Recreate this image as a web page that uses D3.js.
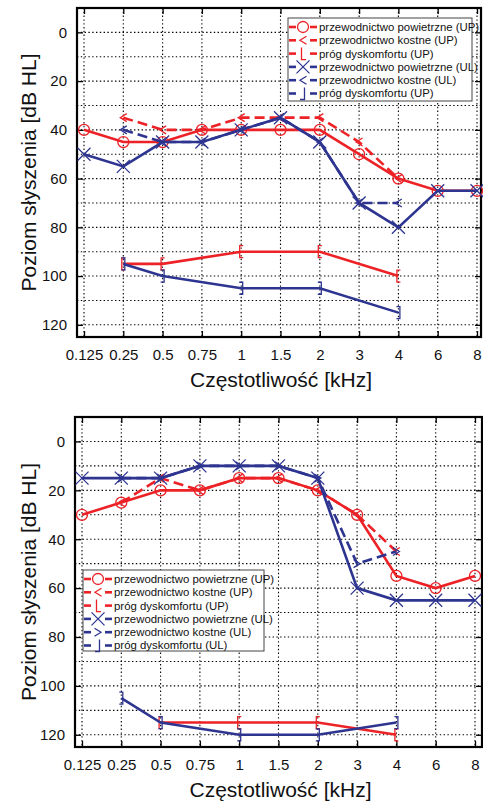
<!DOCTYPE html>
<html>
<head>
<meta charset="utf-8">
<script src="https://cdn.jsdelivr.net/npm/d3@7"></script>
<style>
  body { margin: 0; background: #fff; }
  svg { display: block; }
</style>
</head>
<body>
<div id="chart"></div>
<script>
// frequencies (categorical axis) and dB ticks
const freqs = ["0.125", "0.25", "0.5", "0.75", "1", "1.5", "2", "3", "4", "6", "8"];
const dbTicks = [0, 20, 40, 60, 80, 100, 120];
const dbGrid = [0, 10, 20, 30, 40, 50, 60, 70, 80, 90, 100, 110, 120];

// top audiogram
const airUP1  = [40, 45, 45, 40, 40, 40, 40, 50, 60, 65, 65];
const boneUP1 = [null, 35, 40, 40, 35, 35, 35, 45, 60, null, null];
const uclUP1  = [null, 95, 95, null, 90, null, 90, null, 100, null, null];
const airUL1  = [50, 55, 45, 45, 40, 35, 45, 70, 80, 65, 65];
const boneUL1 = [null, 40, 45, 45, 40, 35, 45, 70, 70, null, null];
const uclUL1  = [null, 95, 100, null, 105, null, 105, null, 115, null, null];
const legend1 = ["przewodnictwo powietrzne (UP)", "przewodnictwo kostne (UP)", "próg dyskomfortu (UP)",
                 "przewodnictwo powietrzne (UL)", "przewodnictwo kostne (UL)", "próg dyskomfortu (UP)"];

// bottom audiogram
const airUP2  = [30, 25, 20, 20, 15, 15, 20, 30, 55, 60, 55];
const boneUP2 = [null, 25, 15, 20, 15, 15, 20, 30, 45, null, null];
const uclUP2  = [null, null, 115, null, 115, null, 115, null, 120, null, null];
const airUL2  = [15, 15, 15, 10, 10, 10, 15, 60, 65, 65, 65];
const boneUL2 = [null, 15, 15, 10, 10, 10, 15, 50, 45, null, null];
const uclUL2  = [null, 105, 115, null, 120, null, 120, null, 115, null, null];
const legend2 = ["przewodnictwo powietrzne (UP)", "przewodnictwo kostne (UP)", "próg dyskomfortu (UP)",
                 "przewodnictwo powietrzne (UL)", "przewodnictwo kostne (UL)", "próg dyskomfortu (UL)"];

const RED = "#ec2227";
const BLUE = "#2e3590";
const FONT = "'Liberation Sans', Arial, sans-serif";

const svg = d3.select("#chart").append("svg")
    .attr("width", 483)
    .attr("height", 804);

// legend order: air UP, bone UP, ucl UP, air UL, bone UL, ucl UL
function legendOrder(s) {
    const base = s.color === RED ? 0 : 3;
    if (s.mark === "o" || s.mark === "x") return base;
    if (s.dash) return base + 1;
    return base + 2;
}

// draws one marker symbol
function marker(g, type, x, y, color) {
    if (type === "o") {
        g.append("circle").attr("cx", x).attr("cy", y).attr("r", 5.5)
            .attr("fill", "none").attr("stroke", color).attr("stroke-width", 1.3);
        return;
    }
    let d;
    if (type === "x") d = `M${x-6.5},${y-6.5}L${x+6.5},${y+6.5}M${x-6.5},${y+6.5}L${x+6.5},${y-6.5}`;
    if (type === "<") d = `M${x+3.5},${y-4}L${x-3},${y}L${x+3.5},${y+4}`;
    if (type === ">") d = `M${x-3.5},${y-4}L${x+3},${y}L${x-3.5},${y+4}`;
    if (type === "[") d = `M${x+2},${y-6}L${x-1.5},${y-6}L${x-1.5},${y+6}L${x+2},${y+6}`;
    if (type === "]") d = `M${x-2},${y-6}L${x+1.5},${y-6}L${x+1.5},${y+6}L${x-2},${y+6}`;
    if (type === "L") d = `M${x-1.5},${y-6}L${x-1.5},${y+6}L${x+3},${y+6}`;
    if (type === "J") d = `M${x+1.5},${y-6}L${x+1.5},${y+6}L${x-3},${y+6}`;
    g.append("path").attr("d", d).attr("fill", "none")
        .attr("stroke", color).attr("stroke-width", 1.3);
}

function drawPanel(p) {
    const x = d3.scalePoint().domain(freqs).range([p.x0, p.x1]);
    const y = d3.scaleLinear().domain([-10, 125]).range([p.top, p.bottom]);
    const g = svg.append("g");

    // dotted grid
    g.selectAll(".vg").data(freqs).enter().append("line")
        .attr("x1", d => x(d)).attr("x2", d => x(d))
        .attr("y1", p.top).attr("y2", p.bottom)
        .attr("stroke", "#000").attr("stroke-width", 1.1).attr("stroke-dasharray", "1.4,2.4");
    g.selectAll(".hg").data(dbGrid).enter().append("line")
        .attr("x1", p.left).attr("x2", p.right)
        .attr("y1", d => y(d)).attr("y2", d => y(d))
        .attr("stroke", "#000").attr("stroke-width", 1.1).attr("stroke-dasharray", "1.4,2.4");

    // axes with inward ticks
    const xb = g.append("g").attr("transform", `translate(0,${p.bottom})`)
        .call(d3.axisBottom(x).tickSize(-6).tickSizeOuter(0).tickPadding(12));
    g.append("g").attr("transform", `translate(0,${p.top})`)
        .call(d3.axisTop(x).tickSize(-6).tickSizeOuter(0).tickFormat(""));
    const yl = g.append("g").attr("transform", `translate(${p.left},0)`)
        .call(d3.axisLeft(y).tickValues(dbTicks).tickSize(-6).tickSizeOuter(0).tickPadding(10));
    g.append("g").attr("transform", `translate(${p.right},0)`)
        .call(d3.axisRight(y).tickValues(dbTicks).tickSize(-6).tickSizeOuter(0).tickFormat(""));
    g.selectAll(".domain").remove();
    g.selectAll(".tick line").attr("stroke", "#000").attr("stroke-width", 1.3);
    xb.selectAll("text").attr("font-family", FONT).attr("font-size", 15).attr("fill", "#111");
    yl.selectAll("text").attr("font-family", FONT).attr("font-size", 15).attr("fill", "#111");

    // frame
    g.append("rect").attr("x", p.left).attr("y", p.top)
        .attr("width", p.right - p.left).attr("height", p.bottom - p.top)
        .attr("fill", "none").attr("stroke", "#000").attr("stroke-width", 2.2);

    // series
    const line = d3.line().x(d => x(d.f)).y(d => y(d.v));
    p.series.forEach(s => {
        const pts = freqs.map((f, i) => ({ f: f, v: s.values[i] })).filter(d => d.v != null);
        g.append("path").datum(pts).attr("d", line)
            .attr("fill", "none").attr("stroke", s.color).attr("stroke-width", 2.6)
            .attr("stroke-dasharray", s.dash ? "10,5" : null);
        pts.forEach(d => marker(g, s.mark, x(d.f), y(d.v), s.color));
    });

    // legend
    const lg = g.append("g");
    lg.append("rect").attr("x", p.lx).attr("y", p.ly)
        .attr("width", p.lw).attr("height", p.lh)
        .attr("fill", "#fff").attr("stroke", "#444").attr("stroke-width", 1);
    p.series.forEach((s, i) => {
        const cy = p.ly + 9 + i * 13.3;
        const mx = p.lx + 15;
        lg.append("line").attr("x1", mx - 14).attr("x2", mx - 7).attr("y1", cy).attr("y2", cy)
            .attr("stroke", s.color).attr("stroke-width", 2.6);
        lg.append("line").attr("x1", mx + 7).attr("x2", mx + 14).attr("y1", cy).attr("y2", cy)
            .attr("stroke", s.color).attr("stroke-width", 2.6);
        marker(lg, s.legMark || s.mark, mx, cy, s.color);
        lg.append("text").attr("x", mx + 16).attr("y", cy).attr("dy", "0.35em")
            .attr("font-family", FONT).attr("font-size", 11.4).attr("fill", "#111")
            .text(p.labels[i]);
    });

    // axis titles
    g.append("text").attr("x", (p.left + p.right) / 2 + 2).attr("y", p.bottom + 50)
        .attr("text-anchor", "middle").attr("font-family", FONT).attr("font-size", 21)
        .attr("fill", "#111").text("Częstotliwość [kHz]");
    g.append("text")
        .attr("transform", `translate(36,${(p.top + p.bottom) / 2}) rotate(-90)`)
        .attr("text-anchor", "middle").attr("font-family", FONT).attr("font-size", 21)
        .attr("fill", "#111").text("Poziom słyszenia [dB HL]");
}

drawPanel({
    left: 77, right: 481, top: 8, bottom: 337, x0: 84, x1: 477,
    lx: 288, ly: 18, lw: 184, lh: 83, labels: legend1,
    series: [
        { values: uclUP1, color: RED, mark: "[", legMark: "L" },
        { values: uclUL1, color: BLUE, mark: "]", legMark: "J" },
        { values: airUP1, color: RED, mark: "o" },
        { values: boneUP1, color: RED, mark: "<", dash: true },
        { values: airUL1, color: BLUE, mark: "x" },
        { values: boneUL1, color: BLUE, mark: "<", dash: true }
    ].sort((a, b) => legendOrder(a) - legendOrder(b))
});

drawPanel({
    left: 75, right: 482, top: 417, bottom: 747, x0: 82, x1: 475,
    lx: 83, ly: 570, lw: 181, lh: 81, labels: legend2,
    series: [
        { values: uclUP2, color: RED, mark: "[", legMark: "L" },
        { values: uclUL2, color: BLUE, mark: "]", legMark: "J" },
        { values: airUP2, color: RED, mark: "o" },
        { values: boneUP2, color: RED, mark: "<", dash: true },
        { values: airUL2, color: BLUE, mark: "x" },
        { values: boneUL2, color: BLUE, mark: ">", dash: true }
    ].sort((a, b) => legendOrder(a) - legendOrder(b))
});
</script>
</body>
</html>
